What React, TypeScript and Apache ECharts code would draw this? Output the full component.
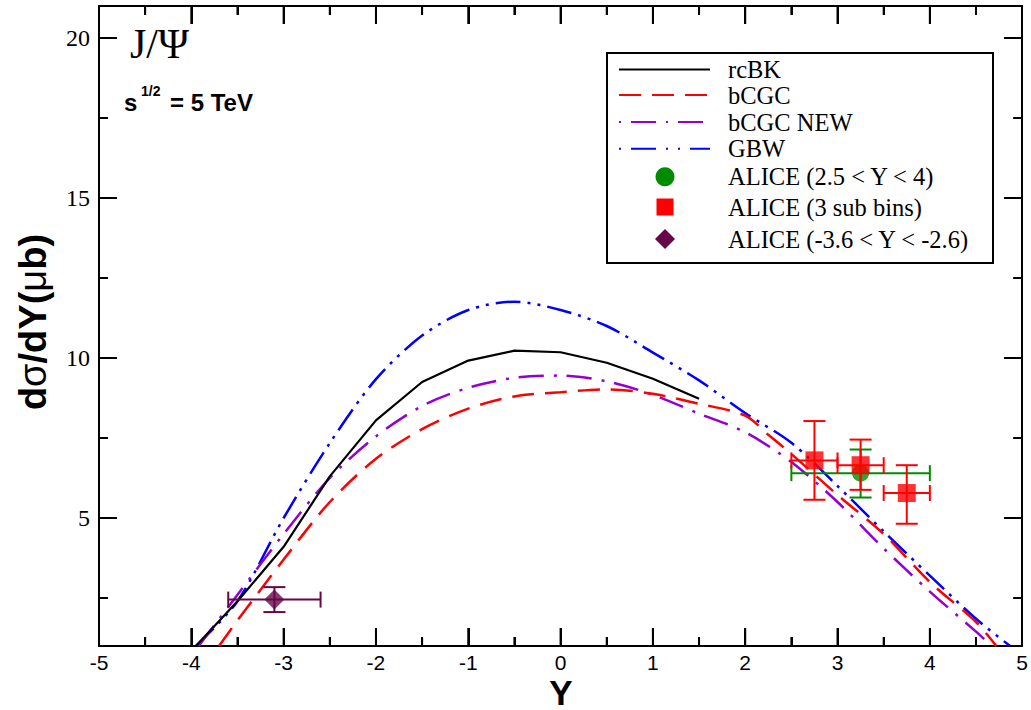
import React, { useEffect, useRef } from 'react';
import * as echarts from 'echarts';

// ---- data ----
const RCBK_X = [-3.95, -3.5, -3.0, -2.5, -2.0, -1.5, -1.0, -0.5, 0.0, 0.5, 1.0, 1.5];
const RCBK_V = [1.0, 2.4, 4.1, 6.3, 8.05, 9.25, 9.92, 10.23, 10.18, 9.85, 9.35, 8.73];

const BCGC_X = [-3.7, -3.5, -3.0, -2.5, -2.0, -1.5, -1.0, -0.5, 0.0, 0.5, 1.0, 1.5, 2.0, 2.25, 2.5, 3.0, 3.5, 4.0, 4.5, 4.72];
const BCGC_V = [1.0, 1.8, 3.7, 5.5, 6.85, 7.78, 8.42, 8.8, 8.93, 9.02, 8.88, 8.57, 8.2, 7.6, 7.0, 5.72, 4.5, 3.0, 1.75, 1.0];

const BCGCNEW_X = [-3.92, -3.5, -3.0, -2.5, -2.0, -1.5, -1.0, -0.5, 0.0, 0.5, 1.0, 1.5, 2.0, 2.5, 3.0, 3.5, 4.0, 4.5, 4.67];
const BCGCNEW_V = [1.0, 2.6, 4.5, 6.25, 7.55, 8.5, 9.07, 9.38, 9.45, 9.27, 8.85, 8.26, 7.68, 6.75, 5.5, 4.05, 2.7, 1.45, 1.0];

const GBW_X = [-3.95, -3.5, -3.0, -2.5, -2.0, -1.5, -1.0, -0.5, 0.0, 0.5, 1.0, 1.5, 2.0, 2.5, 3.0, 3.5, 4.0, 4.5, 4.87];
const GBW_V = [1.0, 2.4, 5.0, 7.34, 9.34, 10.7, 11.5, 11.76, 11.5, 11.0, 10.17, 9.3, 8.28, 7.35, 6.0, 4.58, 3.2, 1.85, 1.0];

// ALICE 3 sub bins
const SUB_X = [2.75, 3.25, 3.75];
const SUB_V = [6.8, 6.65, 5.78];
const SUB_XLO = [2.5, 3.0, 3.5];
const SUB_XHI = [3.0, 3.5, 4.0];
const SUB_VLO = [5.57, 5.88, 4.82];
const SUB_VHI = [8.03, 7.45, 6.65];

// ALICE 2.5 < Y < 4
const FWD_X = [3.25];
const FWD_V = [6.4];
const FWD_XLO = [2.5];
const FWD_XHI = [4.0];
const FWD_VLO = [5.64];
const FWD_VHI = [7.14];

// ALICE -3.6 < Y < -2.6
const BWD_X = [-3.1];
const BWD_V = [2.45];
const BWD_XLO = [-3.6];
const BWD_XHI = [-2.6];
const BWD_VLO = [2.06];
const BWD_VHI = [2.84];

// tick values
const X_MIN = -5, X_MAX = 5, Y_MIN = 1, Y_MAX = 21;
const X_MAJOR = [-4, -3, -2, -1, 0, 1, 2, 3, 4];
const X_MINOR = [-4.5, -3.5, -2.5, -1.5, -0.5, 0.5, 1.5, 2.5, 3.5, 4.5];
const Y_MAJOR = [5, 10, 15, 20];
const Y_MINOR = [2.5, 7.5, 12.5, 17.5];

const LEGEND_NAMES = ['rcBK', 'bCGC', 'bCGC NEW', 'GBW', 'ALICE (2.5 < Y < 4)', 'ALICE (3 sub bins)', 'ALICE (-3.6 < Y < -2.6)'];

// ---- styles ----
const C_BLACK = '#000000';
const C_RED = '#ff0000';
const C_VIOLET = '#9400d3';
const C_BLUE = '#0000ff';
const C_GREEN = '#008b00';
const C_MAROON = '#670748';

const DASH_RED = [22, 11];
const DASH_VIOLET = [25, 10, 3, 10];
const DASH_BLUE = [25, 7, 3, 7, 3, 7];

const zip = (xs: number[], ys: number[]) => xs.map((x, i) => [x, ys[i]]);
const errRows = (x: number[], v: number[], xl: number[], xh: number[], vl: number[], vh: number[]) =>
  x.map((xx, i) => [xx, v[i], xl[i], xh[i], vl[i], vh[i]]);

function errorSeries(rows: number[][], color: string, z: number) {
  return {
    type: 'custom',
    xAxisIndex: 0,
    yAxisIndex: 0,
    data: rows,
    encode: { x: [0, 2, 3], y: [1, 4, 5] },
    renderItem: (params: any, api: any) => {
      const x = api.value(0), y = api.value(1);
      const xl = api.value(2), xh = api.value(3);
      const yl = api.value(4), yh = api.value(5);
      const c = api.coord([x, y]);
      const l = api.coord([xl, y]);
      const r = api.coord([xh, y]);
      const lo = api.coord([x, yl]);
      const hi = api.coord([x, yh]);
      const st = { stroke: color, lineWidth: 2 };
      const capW = 11, capH = 8;
      return {
        type: 'group',
        children: [
          { type: 'line', shape: { x1: l[0], y1: c[1], x2: r[0], y2: c[1] }, style: st },
          { type: 'line', shape: { x1: l[0], y1: c[1] - capH, x2: l[0], y2: c[1] + capH }, style: st },
          { type: 'line', shape: { x1: r[0], y1: c[1] - capH, x2: r[0], y2: c[1] + capH }, style: st },
          { type: 'line', shape: { x1: c[0], y1: lo[1], x2: c[0], y2: hi[1] }, style: st },
          { type: 'line', shape: { x1: c[0] - capW, y1: lo[1], x2: c[0] + capW, y2: lo[1] }, style: st },
          { type: 'line', shape: { x1: c[0] - capW, y1: hi[1], x2: c[0] + capW, y2: hi[1] }, style: st },
        ],
      };
    },
    z,
  };
}

export default function App() {
  const ref = useRef<HTMLDivElement>(null);
  useEffect(() => {
    const chart = echarts.init(ref.current!, null, { renderer: 'svg' });
    const axLine = { show: true, onZero: false, lineStyle: { color: '#000', width: 2 } };
    const xBase: any = {
      type: 'value', min: X_MIN, max: X_MAX, interval: 1,
      axisLine: axLine,
      axisTick: { show: true, inside: true, length: 18, lineStyle: { color: '#000', width: 2 } },
      minorTick: { show: true, splitNumber: 2, length: 9, lineStyle: { color: '#000', width: 2 } },
      splitLine: { show: false }, minorSplitLine: { show: false },
    };
    const yBase = (pos: string, labels: boolean): any => ({
      type: 'value', min: Y_MIN, max: Y_MAX, position: pos,
      axisLine: axLine,
      axisTick: { show: true, inside: true, length: 18, customValues: Y_MAJOR, lineStyle: { color: '#000', width: 2 } },
      axisLabel: labels
        ? { show: true, customValues: Y_MAJOR, fontSize: 24, fontFamily: 'Liberation Serif', color: '#000', margin: 9 }
        : { show: false },
      splitLine: { show: false },
    });

    const lineSeries = (name: string, data: number[][], color: string, dash: any, width: number, smooth: any) => ({
      name, type: 'line', data, xAxisIndex: 0, yAxisIndex: 0,
      showSymbol: false, symbol: 'none', smooth, clip: true,
      lineStyle: { color, width, type: dash },
      z: 2,
    });

    const legX1 = 619, legX2 = 710, legSym = 665, legText = 728;
    const legRows = [69.5, 95, 122, 148.7, 176.7, 207, 239];
    const legLine = (y: number, color: string, dash: number[] | null): any => {
      const style: any = { stroke: color, lineWidth: 2 };
      if (dash) style.lineDash = dash;
      return { type: 'line', z: 11, shape: { x1: legX1, y1: y, x2: legX2, y2: y }, style };
    };
    const legLabel = (i: number): any => ({
      type: 'text', z: 11, x: legText, y: legRows[i],
      style: { text: LEGEND_NAMES[i], fontSize: 24.5, lineHeight: 22, fontFamily: 'Liberation Serif', fill: '#000', verticalAlign: 'middle', align: 'left' },
    });

    const baseGraphic: any[] = [
      {
        type: 'text', x: 130, y: 44,
        style: { text: 'J/Ψ', fontSize: 42, fontFamily: 'Liberation Serif', fill: '#000', verticalAlign: 'middle' },
      },
      {
        type: 'text', x: 124, y: 102,
        style: { text: 's', fontSize: 24, fontWeight: 'bold', fontFamily: 'Liberation Sans', fill: '#000', verticalAlign: 'middle' },
      },
      {
        type: 'text', x: 141, y: 91,
        style: { text: '1/2', fontSize: 14, fontWeight: 'bold', fontFamily: 'Liberation Sans', fill: '#000', verticalAlign: 'middle' },
      },
      {
        type: 'text', x: 170, y: 102,
        style: { text: '= 5 TeV', fontSize: 24, fontWeight: 'bold', fontFamily: 'Liberation Sans', fill: '#000', verticalAlign: 'middle' },
      },
      {
        type: 'text', x: 561, y: 692,
        style: { text: 'Y', fontSize: 35, lineHeight: 30, fontWeight: 'bold', fontFamily: 'Liberation Sans', fill: '#000', align: 'center', verticalAlign: 'middle' },
      },
      {
        type: 'text', x: 33, y: 322, rotation: Math.PI / 2,
        style: {
          text: '{b|d}{n|σ}{b|/dY(}{n|μ}{b|b)}',
          align: 'center', verticalAlign: 'middle', fill: '#000',
          rich: {
            b: { fontSize: 38, fontWeight: 'bold', fontFamily: 'Liberation Sans', fill: '#000' },
            n: { fontSize: 38, fontWeight: 'normal', fontFamily: 'Liberation Sans', fill: '#000' },
          },
        },
      },
      {
        type: 'rect', z: 10, shape: { x: 607, y: 53, width: 386, height: 210 },
        style: { fill: '#fff', stroke: '#000', lineWidth: 2 },
      },
      legLine(legRows[0], C_BLACK, null),
      legLine(legRows[1], C_RED, DASH_RED),
      legLine(legRows[2], C_VIOLET, [2, 10, 25, 10]),
      legLine(legRows[3], C_BLUE, [2, 10, 25, 10, 2, 10]),
      { type: 'circle', z: 11, shape: { cx: legSym, cy: legRows[4], r: 9.5 }, style: { fill: C_GREEN } },
      { type: 'rect', z: 11, shape: { x: legSym - 8.5, y: legRows[5] - 8.5, width: 17, height: 17 }, style: { fill: C_RED } },
      {
        type: 'polygon', z: 11,
        shape: { points: [[legSym, legRows[6] - 10], [legSym + 10, legRows[6]], [legSym, legRows[6] + 10], [legSym - 10, legRows[6]]] },
        style: { fill: C_MAROON },
      },
      legLabel(0), legLabel(1), legLabel(2), legLabel(3), legLabel(4), legLabel(5), legLabel(6),
    ];

    chart.setOption({
      animation: false,
      backgroundColor: '#ffffff',
      grid: { left: 99, top: 6, width: 925, height: 640, containLabel: false },
      xAxis: [
        { ...xBase, position: 'bottom', axisLabel: { show: true, fontSize: 21, lineHeight: 20, fontFamily: 'Liberation Sans', color: '#000', margin: 6 } },
        { ...xBase, position: 'top', axisLabel: { show: false } },
      ],
      yAxis: [yBase('left', true), yBase('right', false)],
      series: [
        lineSeries('GBW', zip(GBW_X, GBW_V), C_BLUE, DASH_BLUE, 2.5, 0.3),
        lineSeries('bCGC NEW', zip(BCGCNEW_X, BCGCNEW_V), C_VIOLET, DASH_VIOLET, 2.5, 0.3),
        lineSeries('bCGC', zip(BCGC_X, BCGC_V), C_RED, DASH_RED, 2.5, 0.3),
        lineSeries('rcBK', zip(RCBK_X, RCBK_V), C_BLACK, 'solid', 2.2, false),
        errorSeries(errRows(BWD_X, BWD_V, BWD_XLO, BWD_XHI, BWD_VLO, BWD_VHI), C_MAROON, 3),
        {
          name: LEGEND_NAMES[6], type: 'scatter', data: zip(BWD_X, BWD_V), symbol: 'diamond', symbolSize: 20,
          itemStyle: { color: C_MAROON }, z: 4,
        },
        errorSeries(errRows(FWD_X, FWD_V, FWD_XLO, FWD_XHI, FWD_VLO, FWD_VHI), C_GREEN, 3),
        {
          name: LEGEND_NAMES[4], type: 'scatter', data: zip(FWD_X, FWD_V), symbol: 'circle', symbolSize: 17,
          itemStyle: { color: C_GREEN }, z: 4,
        },
        errorSeries(errRows(SUB_X, SUB_V, SUB_XLO, SUB_XHI, SUB_VLO, SUB_VHI), C_RED, 5),
        {
          name: LEGEND_NAMES[5], type: 'scatter', data: zip(SUB_X, SUB_V), symbol: 'rect', symbolSize: 18,
          itemStyle: { color: C_RED }, z: 6,
        },
      ],
      graphic: baseGraphic,
    });

    // inside ticks on all four sides, placed with the chart's own scales
    try {
      const toPx = (x: number, y: number): number[] =>
        chart.convertToPixel({ seriesIndex: 0 }, [x, y]) as unknown as number[];
      const left = toPx(X_MIN, Y_MIN)[0];
      const right = toPx(X_MAX, Y_MIN)[0];
      const bottom = toPx(X_MIN, Y_MIN)[1];
      const top = toPx(X_MIN, Y_MAX)[1];
      const tickStyle = { stroke: '#000', lineWidth: 2 };
      const ticks: any[] = [];
      const addX = (v: number, len: number) => {
        const px = toPx(v, Y_MIN)[0];
        ticks.push({ type: 'line', shape: { x1: px, y1: bottom, x2: px, y2: bottom - len }, style: tickStyle });
        ticks.push({ type: 'line', shape: { x1: px, y1: top, x2: px, y2: top + len }, style: tickStyle });
      };
      const addY = (v: number, len: number) => {
        const py = toPx(X_MIN, v)[1];
        ticks.push({ type: 'line', shape: { x1: left, y1: py, x2: left + len, y2: py }, style: tickStyle });
        ticks.push({ type: 'line', shape: { x1: right, y1: py, x2: right - len, y2: py }, style: tickStyle });
      };
      X_MAJOR.forEach((v) => addX(v, 18));
      X_MINOR.forEach((v) => addX(v, 9));
      Y_MAJOR.forEach((v) => addY(v, 18));
      Y_MINOR.forEach((v) => addY(v, 9));
      if (isFinite(left) && isFinite(bottom)) {
        chart.setOption({ graphic: baseGraphic.concat(ticks) });
      }
    } catch (e) {
      // keep the chart without the extra ticks
    }

    return () => chart.dispose();
  }, []);
  return (
    <div
      ref={ref}
      style={{ position: 'fixed', left: 0, top: 0, width: 1031, height: 710, background: '#fff' }}
    />
  );
}
